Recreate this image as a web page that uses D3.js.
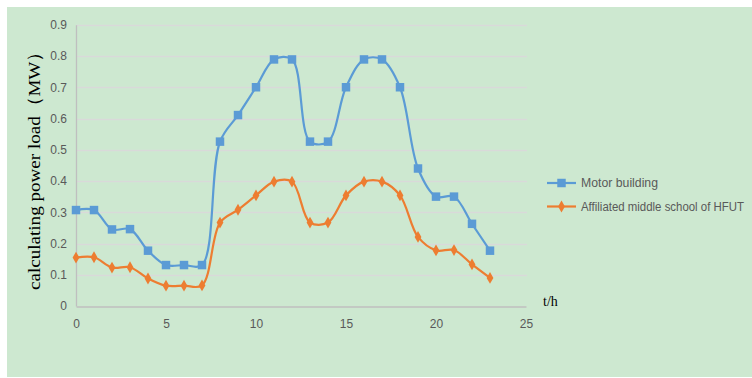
<!DOCTYPE html>
<html>
<head>
<meta charset="utf-8">
<script src="https://cdn.jsdelivr.net/npm/d3@7/dist/d3.min.js"></script>
<style>
  html, body { margin: 0; padding: 0; background: #ffffff; }
  svg { display: block; }
</style>
</head>
<body>
<svg id="chart" width="752" height="378"></svg>
<script>
// Hourly calculating power load (MW)
const hours = d3.range(0, 24);
const motorBuilding = [0.307, 0.307, 0.245, 0.246, 0.177, 0.131, 0.131, 0.131,
  0.526, 0.611, 0.700, 0.789, 0.789, 0.526, 0.526, 0.700,
  0.789, 0.789, 0.700, 0.440, 0.350, 0.350, 0.263, 0.177];
const middleSchool = [0.155, 0.156, 0.123, 0.124, 0.088, 0.065, 0.065, 0.066,
  0.267, 0.308, 0.354, 0.398, 0.398, 0.267, 0.267, 0.354,
  0.398, 0.398, 0.354, 0.221, 0.178, 0.179, 0.133, 0.090];
const seriesNames = ["Motor building", "Affiliated middle school of HFUT"];
const seriesColors = ["#5b9bd5", "#ed7d31"];
const legendWidths = [77, 163];
const xTicks = [0, 5, 10, 15, 20, 25];
const yTicks = [0, 0.1, 0.2, 0.3, 0.4, 0.5, 0.6, 0.7, 0.8, 0.9];

const svg = d3.select("#chart");
const tickFont = "'Liberation Sans Narrow', 'Arial Narrow', 'Liberation Sans', Arial, sans-serif";

// chart area background
svg.append("rect")
  .attr("x", 7).attr("y", 7).attr("width", 745).attr("height", 370)
  .attr("fill", "#cde8d0");

const x = d3.scaleLinear().domain([0, 25]).range([76, 526]);
const y = d3.scaleLinear().domain([0, 0.9]).range([306, 24.75]);

// horizontal gridlines
svg.append("g")
  .selectAll("line")
  .data(yTicks.filter(d => d > 0))
  .join("line")
  .attr("x1", x(0)).attr("x2", x(25) + 1)
  .attr("y1", d => Math.round(y(d)) + 0.5).attr("y2", d => Math.round(y(d)) + 0.5)
  .attr("stroke", "#d9d9d9").attr("stroke-width", 1.3);

// axes
const yAxis = d3.axisLeft(y).tickValues(yTicks).tickSize(0).tickPadding(9)
  .tickFormat(d => d === 0 ? "0" : d3.format(".1f")(d));
const gy = svg.append("g").attr("transform", `translate(${x(0)},0)`).call(yAxis);
gy.select(".domain").attr("stroke", "#bfbfbf").attr("stroke-width", 1.3);
gy.selectAll("text").attr("font-family", tickFont).attr("font-size", 12).attr("fill", "#595959");

const xAxis = d3.axisBottom(x).tickValues(xTicks).tickSize(0).tickPadding(13);
const gx = svg.append("g").attr("transform", `translate(0,${Math.round(y(0)) + 0.5})`).call(xAxis);
gx.select(".domain").attr("stroke", "#bfbfbf").attr("stroke-width", 1.6);
gx.selectAll("text").attr("font-family", tickFont).attr("font-size", 12).attr("fill", "#595959");

// axis titles
svg.append("text")
  .attr("transform", "translate(40,166) rotate(-90)")
  .attr("text-anchor", "middle")
  .attr("font-family", "'Liberation Serif', 'Times New Roman', serif")
  .attr("font-size", 17.5)
  .attr("fill", "#000")
  .attr("textLength", 248)
  .attr("lengthAdjust", "spacingAndGlyphs")
  .text("calculating power load（MW）");

svg.append("text")
  .attr("x", 543).attr("y", 306)
  .attr("font-family", "'Liberation Serif', 'Times New Roman', serif")
  .attr("font-size", 14)
  .attr("fill", "#000")
  .text("t/h");

// series lines and markers
const line = d3.line()
  .x((d, i) => x(hours[i]))
  .y(d => y(d))
  .curve(d3.curveCatmullRom.alpha(0.5));

const allSeries = [motorBuilding, middleSchool];
allSeries.forEach((vals, si) => {
  svg.append("path")
    .datum(vals)
    .attr("fill", "none")
    .attr("stroke", seriesColors[si])
    .attr("stroke-width", 2.2)
    .attr("d", line);
});

const square = d3.symbol().type(d3.symbolSquare).size(72);
const diamond = d3.symbol().type(d3.symbolDiamond).size(40);

svg.append("g").selectAll("path")
  .data(motorBuilding)
  .join("path")
  .attr("transform", (d, i) => `translate(${x(hours[i])},${y(d)})`)
  .attr("d", square)
  .attr("fill", seriesColors[0]);

svg.append("g").selectAll("path")
  .data(middleSchool)
  .join("path")
  .attr("transform", (d, i) => `translate(${x(hours[i])},${y(d)})`)
  .attr("d", diamond)
  .attr("fill", seriesColors[1]);

// legend
const legend = svg.append("g").attr("transform", "translate(547,183)");
seriesNames.forEach((name, i) => {
  const g = legend.append("g").attr("transform", `translate(0,${i * 23.5})`);
  g.append("line").attr("x1", 0).attr("x2", 29).attr("y1", 0).attr("y2", 0)
    .attr("stroke", seriesColors[i]).attr("stroke-width", 2.2);
  g.append("path").attr("transform", "translate(14.5,0)")
    .attr("d", i === 0 ? square : diamond)
    .attr("fill", seriesColors[i]);
  g.append("text").attr("x", 34).attr("y", 0).attr("dy", "0.35em")
    .attr("font-family", tickFont).attr("font-size", 12).attr("fill", "#595959")
    .attr("textLength", legendWidths[i])
    .attr("lengthAdjust", "spacingAndGlyphs")
    .text(name);
});
</script>
</body>
</html>
